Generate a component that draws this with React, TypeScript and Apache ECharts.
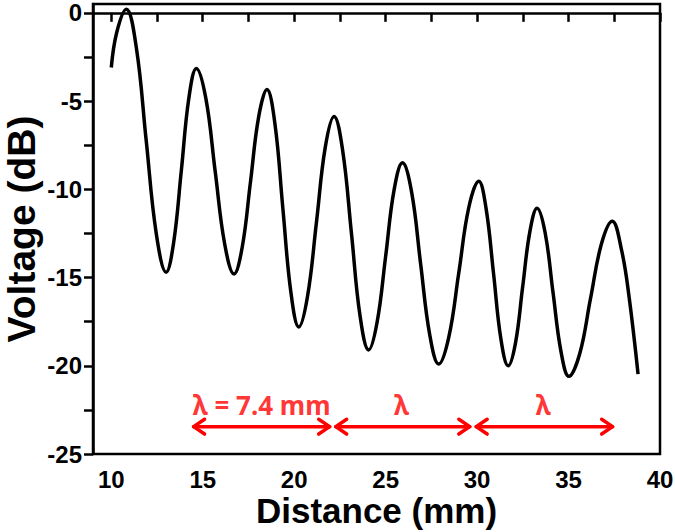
import React, { useEffect, useRef } from "react";
import * as echarts from "echarts";

const distance = [10.0, 10.3, 10.82, 11.37, 11.91, 12.46, 13.0, 13.41, 13.83, 14.24, 14.65, 15.17, 15.68, 16.2, 16.71, 17.16, 17.61, 18.06, 18.51, 18.95, 19.38, 19.82, 20.25, 20.73, 21.22, 21.7, 22.18, 22.65, 23.13, 23.6, 24.07, 24.53, 25.0, 25.46, 25.92, 26.42, 26.91, 27.41, 27.9, 28.45, 29.0, 29.54, 30.09, 30.49, 30.9, 31.3, 31.7, 32.1, 32.49, 32.89, 33.28, 33.72, 34.15, 34.59, 35.02, 35.61, 36.2, 36.8, 37.39, 37.9, 38.31, 38.8];
const voltage = [-3.1, -1.1, 0.2, -1.98, -7.25, -12.52, -14.7, -13.01, -8.93, -4.84, -3.15, -4.85, -8.98, -13.1, -14.8, -13.27, -9.58, -5.88, -4.35, -6.31, -11.08, -15.84, -17.8, -16.06, -11.84, -7.61, -5.87, -7.8, -12.49, -17.17, -19.1, -17.55, -13.8, -10.05, -8.5, -10.16, -14.2, -18.24, -19.9, -18.39, -14.73, -11.06, -9.55, -11.08, -14.78, -18.47, -20.0, -18.7, -15.54, -12.37, -11.07, -12.46, -15.84, -19.21, -20.6, -19.32, -16.2, -13.09, -11.81, -13.45, -16.1, -20.47];

const xLabels = [10, 15, 20, 25, 30, 35, 40];
const xTicks = [10, 12.5, 15, 17.5, 20, 22.5, 25, 27.5, 30, 32.5, 35, 37.5, 40];
const yLabels = [-25, -20, -15, -10, -5, 0];
const yTicks = [-25, -22.5, -20, -17.5, -15, -12.5, -10, -7.5, -5, -2.5, 0];

const arrowStarts = [14.5, 22.27, 29.95];
const arrowEnds = [21.94, 29.6, 37.41];
const arrowLevel = -23.45;
const annotationX = [18.22, 25.86, 33.61];
const annotationY = -22.2;
const annotationTexts = ["λ = 7.4 mm", "λ", "λ"];

const RED = "#ff0000";
const HEAD_DX = 0.6;
const HEAD_DY = 0.42;

export default function App() {
  const ref = useRef<HTMLDivElement>(null);
  useEffect(() => {
    if (!ref.current) return;
    const chart = echarts.init(ref.current, null, { renderer: "svg" });
    const redLine = (data: number[][]) => ({
      type: "line",
      data,
      symbol: "none",
      silent: true,
      lineStyle: { color: RED, width: 3.5, cap: "round", join: "round" },
      z: 5,
    });
    const arrowSeries: any[] = [];
    arrowStarts.forEach((s, i) => {
      const e = arrowEnds[i];
      const y = arrowLevel;
      arrowSeries.push(redLine([[s, y], [e, y]]));
      arrowSeries.push(redLine([[s + HEAD_DX, y + HEAD_DY], [s, y], [s + HEAD_DX, y - HEAD_DY]]));
      arrowSeries.push(redLine([[e - HEAD_DX, y + HEAD_DY], [e, y], [e - HEAD_DX, y - HEAD_DY]]));
    });
    chart.setOption({
      animation: false,
      backgroundColor: "#ffffff",
      grid: {
        left: 93,
        right: 15,
        top: 4,
        bottom: 78,
        show: true,
        borderColor: "#000",
        borderWidth: 2.5,
        containLabel: false,
        outerBoundsMode: "none",
      },
      xAxis: {
        type: "value",
        min: 9,
        max: 40,
        name: "Distance (mm)",
        nameLocation: "middle",
        nameGap: 39,
        nameMoveOverlap: false,
        nameTextStyle: { fontFamily: "Liberation Sans", fontWeight: "bold", fontSize: 35, color: "#000" },
        axisLine: { show: true, lineStyle: { color: "#000", width: 2.5 } },
        axisTick: { show: true, inside: false, length: 9, customValues: xTicks, lineStyle: { color: "#000", width: 2.5 } },
        axisLabel: { customValues: xLabels, margin: 13, fontFamily: "Liberation Sans", fontWeight: "bold", fontSize: 24, color: "#000" },
        splitLine: { show: false },
      },
      yAxis: {
        type: "value",
        min: -25,
        max: 0.5,
        name: "Voltage (dB)",
        nameLocation: "middle",
        nameRotate: 90,
        nameGap: 52,
        nameMoveOverlap: false,
        nameTextStyle: { fontFamily: "Liberation Sans", fontWeight: "bold", fontSize: 39, color: "#000" },
        axisLine: { show: true, lineStyle: { color: "#000", width: 2.5 } },
        axisTick: { show: true, inside: false, length: 9, customValues: yTicks, lineStyle: { color: "#000", width: 2.5 } },
        axisLabel: { customValues: yLabels, margin: 11, fontFamily: "Liberation Sans", fontWeight: "bold", fontSize: 24, color: "#000" },
        splitLine: { show: false },
      },
      series: [
        {
          type: "line",
          data: distance.map((d, i) => [d, voltage[i]]),
          smooth: 0.4,
          symbol: "none",
          lineStyle: { color: "#000", width: 3.5 },
          z: 3,
        },
        ...arrowSeries,
        {
          type: "scatter",
          symbolSize: 0,
          silent: true,
          data: annotationX.map((x, i) => ({ value: [x, annotationY], name: annotationTexts[i] })),
          label: {
            show: true,
            position: "inside",
            formatter: "{b}",
            color: RED,
            fontFamily: "Noto Sans",
            fontWeight: "bold",
            fontSize: 26,
          },
          z: 6,
        },
      ],
    });
    return () => chart.dispose();
  }, []);
  return <div ref={ref} style={{ position: "absolute", left: 0, top: 0, width: 675, height: 532 }} />;
}
